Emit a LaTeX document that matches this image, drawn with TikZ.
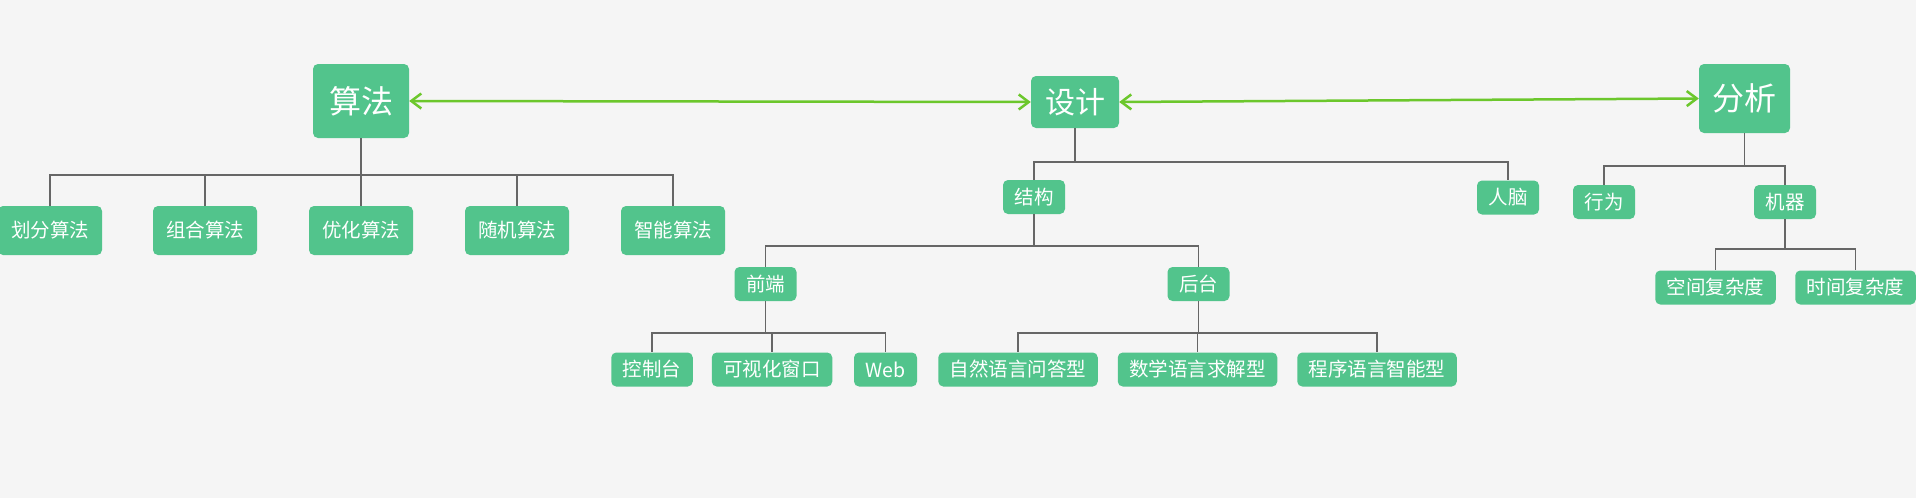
\documentclass[tikz,border=0pt]{standalone}
\usepackage{fontspec}
\setmainfont{Noto Sans CJK SC}
\usetikzlibrary{arrows.meta}
\definecolor{bg}{HTML}{F5F5F5}
\definecolor{boxg}{HTML}{52C48C}
\definecolor{arrg}{HTML}{6CC72C}
\definecolor{lineg}{HTML}{666666}
\begin{document}
\begin{tikzpicture}[x=1pt,y=-1pt,
  box/.style={fill=boxg, text=white, rounded corners=5pt, inner sep=0pt, align=center},
  big/.style={box, font=\fontsize{32}{32}\selectfont},
  small/.style={box, font=\fontsize{19.5}{20}\selectfont, minimum height=34pt, inner xsep=11.5pt},
  mid/.style={box, font=\fontsize{19.5}{20}\selectfont, minimum height=49pt, minimum width=104pt},
  tree/.style={draw=lineg, line width=1.5pt},
  thicktree/.style={draw=lineg, line width=2.5pt},
  link/.style={draw=arrg, line width=2.5pt, {Straight Barb[length=10pt,width=15pt]}-{Straight Barb[length=10pt,width=15pt]}}
]
\fill[bg] (0,0) rectangle (1916,498);
\useasboundingbox (0,0) rectangle (1916,498);

% top level
\node[big, minimum width=96pt, minimum height=74pt] (sf) at (361,101) {算法};
\node[big, minimum width=88pt, minimum height=52pt, font=\fontsize{30}{30}\selectfont] (sj) at (1075,102) {设计};
\node[big, minimum width=91pt, minimum height=69pt] (fx) at (1744.5,98.5) {分析};

% 算法 children
\node[mid] (hf) at (50,230.5) {划分算法};
\node[mid] (zh) at (205,230.5) {组合算法};
\node[mid] (yh) at (361,230.5) {优化算法};
\node[mid] (sjf) at (517,230.5) {随机算法};
\node[mid] (zn) at (673,230.5) {智能算法};

% 设计 subtree
\node[small] (jg) at (1034,197) {结构};
\node[small] (rn) at (1508,197.5) {人脑};
\node[small] (qd) at (765.5,284) {前端};
\node[small] (ht) at (1198.5,284) {后台};
\node[small] (kzt) at (652,369.5) {控制台};
\node[small] (ksh) at (772,369.5) {可视化窗口};
\node[small] (web) at (885.5,369.5) {Web};
\node[small] (zr) at (1018,369.5) {自然语言问答型};
\node[small] (sx) at (1197.5,369.5) {数学语言求解型};
\node[small] (cx) at (1377,369.5) {程序语言智能型};

% 分析 subtree
\node[small] (xw) at (1604,202) {行为};
\node[small] (jq) at (1785,202) {机器};
\node[small] (kj) at (1715.5,287.5) {空间复杂度};
\node[small] (sjfz) at (1855.5,287.5) {时间复杂度};

% bar levels
\coordinate (sfbar) at (0,175);
\coordinate (sjbar) at (0,162);
\coordinate (jgbar) at (0,246);
\coordinate (qdbar) at (0,333);
\coordinate (htbar) at (0,333);
\coordinate (fxbar) at (0,166);
\coordinate (jqbar) at (0,249);

\foreach \n in {hf,zh,yh,sjf,zn}
  \draw[thicktree] (sf.south) |- (\n.north |- sfbar) -- (\n.north);
\foreach \n in {jg,rn}
  \draw[tree] (sj.south) |- (\n.north |- sjbar) -- (\n.north);
\foreach \n in {qd,ht}
  \draw[tree] (jg.south) |- (\n.north |- jgbar) -- (\n.north);
\foreach \n in {kzt,ksh,web}
  \draw[tree] (qd.south) |- (\n.north |- qdbar) -- (\n.north);
\foreach \n in {zr,sx,cx}
  \draw[tree] (ht.south) |- (\n.north |- htbar) -- (\n.north);
\foreach \n in {xw,jq}
  \draw[tree] (fx.south) |- (\n.north |- fxbar) -- (\n.north);
\foreach \n in {kj,sjfz}
  \draw[tree] (jq.south) |- (\n.north |- jqbar) -- (\n.north);

% green links
\draw[link] (sf.east) -- (sj.west);
\draw[link] (sj.east) -- (fx.west);
\end{tikzpicture}
\end{document}
